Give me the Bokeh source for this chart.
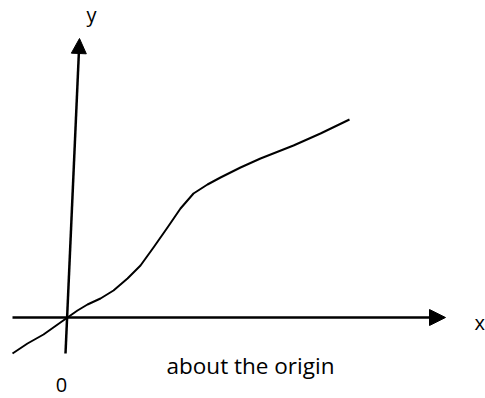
from bokeh.plotting import figure
from bokeh.models import Range1d, Arrow, NormalHead
from bokeh.core.properties import value
from bokeh.embed import file_html
from bokeh.resources import INLINE

# Curve sketched through the origin (data units)
curve_x = [-55, -40, -24, 0, 10, 20, 33, 46, 60, 73, 86, 100, 113, 126, 140, 153,
           173, 193, 226, 253, 282]
curve_y = [-36, -26, -17, 0, 7, 13, 19, 27, 39, 52, 70, 90, 109, 124, 133, 140,
           150, 159, 172, 184, 198]

# Axis arrows: start and end points
x_axis_start = (-55, 0)
x_axis_end = (378, 0)
y_axis_start = (-2, -36)
y_axis_end = (12, 279)

# Labels
x_label = "x"
y_label = "y"
origin_label = "0"
caption = "about the origin"

FONT = value("Open Sans")

p = figure(width=485, height=398, output_backend="svg", toolbar_location=None,
           x_range=Range1d(-67, 418), y_range=Range1d(-81, 317),
           x_axis_location=None, y_axis_location=None, min_border=0)
p.grid.visible = False
p.outline_line_color = None
p.background_fill_color = "white"
p.border_fill_color = "white"

p.add_layout(Arrow(end=NormalHead(size=16, fill_color="black", line_color="black"),
                   x_start=x_axis_start[0], y_start=x_axis_start[1],
                   x_end=x_axis_end[0], y_end=x_axis_end[1],
                   line_width=2.5, line_color="black"))
p.add_layout(Arrow(end=NormalHead(size=15, fill_color="black", line_color="black"),
                   x_start=y_axis_start[0], y_start=y_axis_start[1],
                   x_end=y_axis_end[0], y_end=y_axis_end[1],
                   line_width=2.5, line_color="black"))

p.line(curve_x, curve_y, line_width=2, line_color="black", line_join="round")

p.text(x=[24], y=[303], text=[y_label], text_font=FONT, text_font_size="20px",
       text_align="center", text_baseline="alphabetic", text_color="black")
p.text(x=[407], y=[-5], text=[x_label], text_font=FONT, text_font_size="20px",
       text_align="left", text_baseline="alphabetic", text_color="black")
p.text(x=[-6], y=[-67], text=[origin_label], text_font=FONT, text_font_size="20px",
       text_align="center", text_baseline="alphabetic", text_color="black")
p.text(x=[183], y=[-47.5], text=[caption], text_font=FONT, text_font_size="22.5px",
       text_align="center", text_baseline="alphabetic", text_color="black")

open("out.html", "w").write(file_html(p, INLINE))
